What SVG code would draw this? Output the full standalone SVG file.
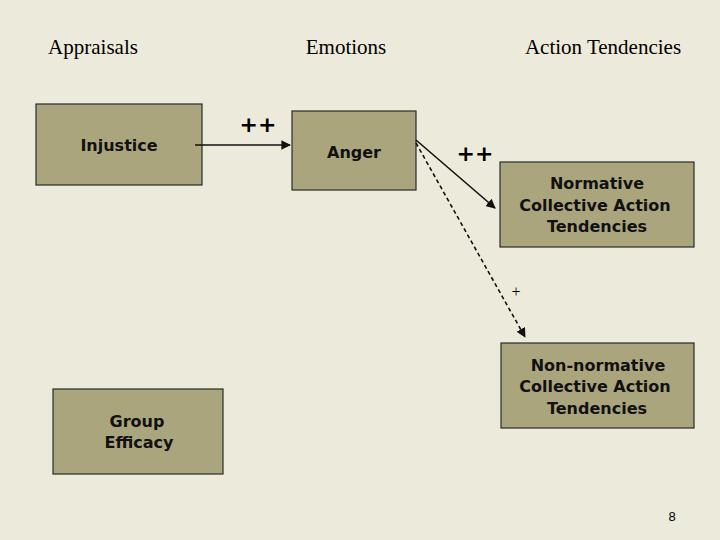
<svg xmlns="http://www.w3.org/2000/svg" width="720" height="540" viewBox="0 0 720 540">
<style>
.bx{fill:#ABA57E;stroke:#2a2a2a;stroke-width:1.2}
.t{font-family:"DejaVu Sans",sans-serif;font-weight:bold;font-size:16px;fill:#111;text-anchor:middle}
.h{font-family:"Liberation Serif",serif;font-size:21px;fill:#000;text-anchor:middle}
.c{stroke:#111;stroke-width:1.6;fill:none}
</style>
<defs><marker id="a" viewBox="0 0 10 10" refX="9" refY="5" markerWidth="6" markerHeight="6" orient="auto"><path d="M0,0L10,5L0,10z" fill="#111"/></marker></defs>
<rect width="720" height="540" fill="#ECEADB"/>
<text class="h" x="93" y="54">Appraisals</text>
<text class="h" x="346" y="54">Emotions</text>
<text class="h" x="603" y="54">Action Tendencies</text>
<g id="injustice"><rect class="bx" x="36" y="104" width="166" height="81"/><text class="t" x="119" y="151">Injustice</text></g>
<g id="anger"><rect class="bx" x="292" y="111" width="124" height="79"/><text class="t" x="354" y="158">Anger</text></g>
<g id="normative"><rect class="bx" x="500" y="162" width="194" height="85"/><text class="t" x="597" y="189">Normative</text><text class="t" x="595" y="211">Collective Action</text><text class="t" x="597" y="232">Tendencies</text></g>
<g id="nonnormative"><rect class="bx" x="501" y="343" width="193" height="85"/><text class="t" x="598" y="371">Non-normative</text><text class="t" x="595" y="392">Collective Action</text><text class="t" x="597" y="414">Tendencies</text></g>
<g id="efficacy"><rect class="bx" x="53" y="389" width="170" height="85"/><text class="t" x="137" y="427">Group</text><text class="t" x="139" y="448">Efficacy</text></g>
<g id="connectors">
<line class="c" x1="195" y1="145" x2="290" y2="145" marker-end="url(#a)"/>
<line class="c" x1="416" y1="140" x2="495" y2="208" marker-end="url(#a)"/>
<line class="c" x1="416" y1="143" x2="525" y2="337" stroke-dasharray="4,3" marker-end="url(#a)"/>
<text x="258" y="132" style="font-family:'DejaVu Sans',sans-serif;font-weight:bold;font-size:22px;text-anchor:middle">++</text>
<text x="475" y="161" style="font-family:'DejaVu Sans',sans-serif;font-weight:bold;font-size:22px;text-anchor:middle">++</text>
<text x="516" y="297" style="font-family:'Liberation Serif',serif;font-size:16px;text-anchor:middle">+</text>
</g>
<text x="672" y="521" style="font-family:'Liberation Sans',sans-serif;font-size:13px;text-anchor:middle">8</text>
</svg>
